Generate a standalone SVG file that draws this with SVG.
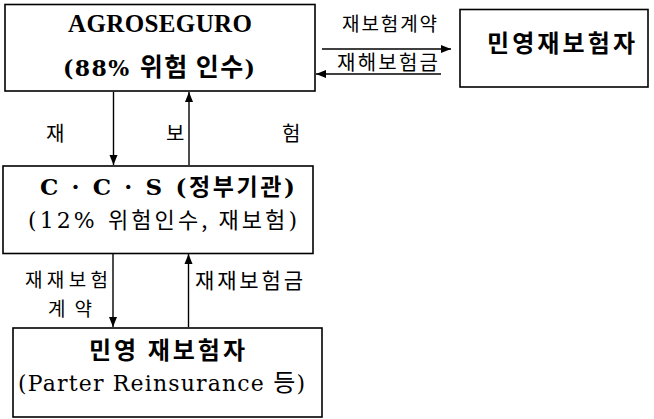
<svg xmlns="http://www.w3.org/2000/svg" width="654" height="419" viewBox="0 0 654 419">
<defs>
<marker id="ah" viewBox="0 0 10 10" refX="10" refY="5" markerWidth="10" markerHeight="10" markerUnits="userSpaceOnUse" orient="auto">
<path d="M0,1 L10,5 L0,9 z" fill="#000"/>
</marker>
</defs>
<style>
.box{fill:#fff;stroke:#000;stroke-width:1.6}
.t{font-family:"DejaVu Serif","Noto Sans CJK KR",serif;fill:#000}
.ts{font-family:"Liberation Serif",serif;fill:#000}
.b{font-weight:bold}
.k{font-family:"Noto Sans CJK KR",sans-serif;fill:#000}
.c{stroke:#000;stroke-width:1.4;fill:none;marker-end:url(#ah)}
</style>
<g id="agroseguro">
<rect class="box" x="5" y="4.5" width="310" height="86.5"/>
<text class="ts b" x="68" y="32" font-size="25" textLength="184" lengthAdjust="spacing">AGROSEGURO</text>
<text class="t b" x="63" y="76" font-size="22" textLength="192" lengthAdjust="spacing">(88% <tspan class="k" font-size="25">위험 인수</tspan>)</text>
</g>
<g id="private-reinsurer">
<rect class="box" x="460" y="9.5" width="188" height="77.5"/>
<text class="k b" x="487" y="52" font-size="24" textLength="148" lengthAdjust="spacing">민영재보험자</text>
</g>
<g id="ccs">
<rect class="box" x="3" y="166" width="310" height="87.5"/>
<text class="t b" x="40" y="195" font-size="23" textLength="255" lengthAdjust="spacing">C · C · S (<tspan class="k" font-size="23">정부기관</tspan>)</text>
<text class="t" x="28" y="228" font-size="22" textLength="269" lengthAdjust="spacing">(12% <tspan class="k" font-size="22">위험인수, 재보험</tspan>)</text>
</g>
<g id="private-reinsurer-2">
<rect class="box" x="13" y="328" width="309" height="89"/>
<text class="k b" x="89" y="359" font-size="24" textLength="156" lengthAdjust="spacing">민영 재보험자</text>
<text class="t" x="18" y="391" font-size="22" textLength="287" lengthAdjust="spacing">(Parter Reinsurance <tspan class="k" font-size="24">등</tspan>)</text>
</g>
<g id="connectors">
<line class="c" x1="322" y1="49" x2="451" y2="49"/>
<line class="c" x1="441" y1="74" x2="316" y2="74"/>
<line class="c" x1="113.5" y1="92" x2="113.5" y2="165"/>
<line class="c" x1="189" y1="165" x2="189" y2="92"/>
<line class="c" x1="113" y1="254" x2="113" y2="327"/>
<line class="c" x1="188.5" y1="327" x2="188.5" y2="254"/>
<text class="k" x="342" y="31" font-size="19" textLength="95" lengthAdjust="spacing">재보험계약</text>
<text class="k" x="337" y="70" font-size="20" textLength="101" lengthAdjust="spacing">재해보험금</text>
<text class="k" x="46" y="141" font-size="20">재</text>
<text class="k" x="166" y="141" font-size="20">보</text>
<text class="k" x="282" y="141" font-size="20">험</text>
<text class="k" x="25" y="287" font-size="19" textLength="83" lengthAdjust="spacing">재재보험</text>
<text class="k" x="48" y="316" font-size="19" textLength="44" lengthAdjust="spacing">계약</text>
<text class="k" x="195" y="288" font-size="21" textLength="108" lengthAdjust="spacing">재재보험금</text>
</g>
</svg>
